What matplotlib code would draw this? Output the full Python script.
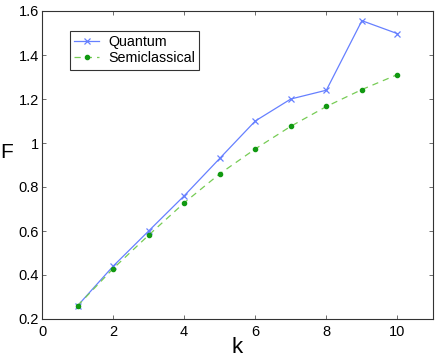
import matplotlib
matplotlib.use("Agg")
import matplotlib.pyplot as plt

k = [1, 2, 3, 4, 5, 6, 7, 8, 9, 10]
quantum = [0.26, 0.44, 0.60, 0.76, 0.93, 1.10, 1.20, 1.24, 1.556, 1.497]
semiclassical = [0.26, 0.429, 0.581, 0.728, 0.860, 0.973, 1.076, 1.166, 1.243, 1.311]
xticks = [0, 2, 4, 6, 8, 10]
yticks = [0.2, 0.4, 0.6, 0.8, 1.0, 1.2, 1.4, 1.6]
yticklabels = ["0.2", "0.4", "0.6", "0.8", "1", "1.2", "1.4", "1.6"]

plt.rcParams['font.family'] = ['Liberation Sans', 'DejaVu Sans']

fig = plt.figure(figsize=(4.36, 3.62), dpi=100)
ax = fig.add_axes([42/436, 1 - 319/362, (433 - 42)/436, (319 - 11)/362])

ax.plot(k, quantum, color='#6680ff', lw=0.9, marker='x', ms=5, mew=0.9,
        label='Quantum')
ax.plot(k, semiclassical, color='#77cc55', lw=0.9, ls=(0, (5, 4)),
        marker='o', ms=3, mfc='#119911', mec='#119911', label='Semiclassical')

ax.set_xlim(0, 11)
ax.set_ylim(0.2, 1.6)
ax.set_xticks(xticks)
ax.set_yticks(yticks)
ax.set_yticklabels(yticklabels)
ax.tick_params(direction='in', top=True, right=True, labelsize=10.5, length=3,
               width=0.6, color='#555555')
ax.tick_params(axis='y', pad=2)
ax.tick_params(axis='x', pad=4)
for s in ax.spines.values():
    s.set_linewidth(0.8)
    s.set_color('#333333')

ax.set_xlabel('k', fontsize=16, labelpad=-1)
ax.set_ylabel('F', fontsize=15, rotation=0, va='center', ha='center')
ax.yaxis.set_label_coords(-0.09, 0.539)

leg = ax.legend(loc='upper left', bbox_to_anchor=(0.072, 0.935), fontsize=10.3,
                frameon=True, fancybox=False, edgecolor='black',
                borderpad=0.3, handlelength=1.75, handletextpad=0.6,
                labelspacing=0.15, borderaxespad=0)
leg.get_frame().set_linewidth(0.8)

fig.savefig('out.png', dpi=100)
